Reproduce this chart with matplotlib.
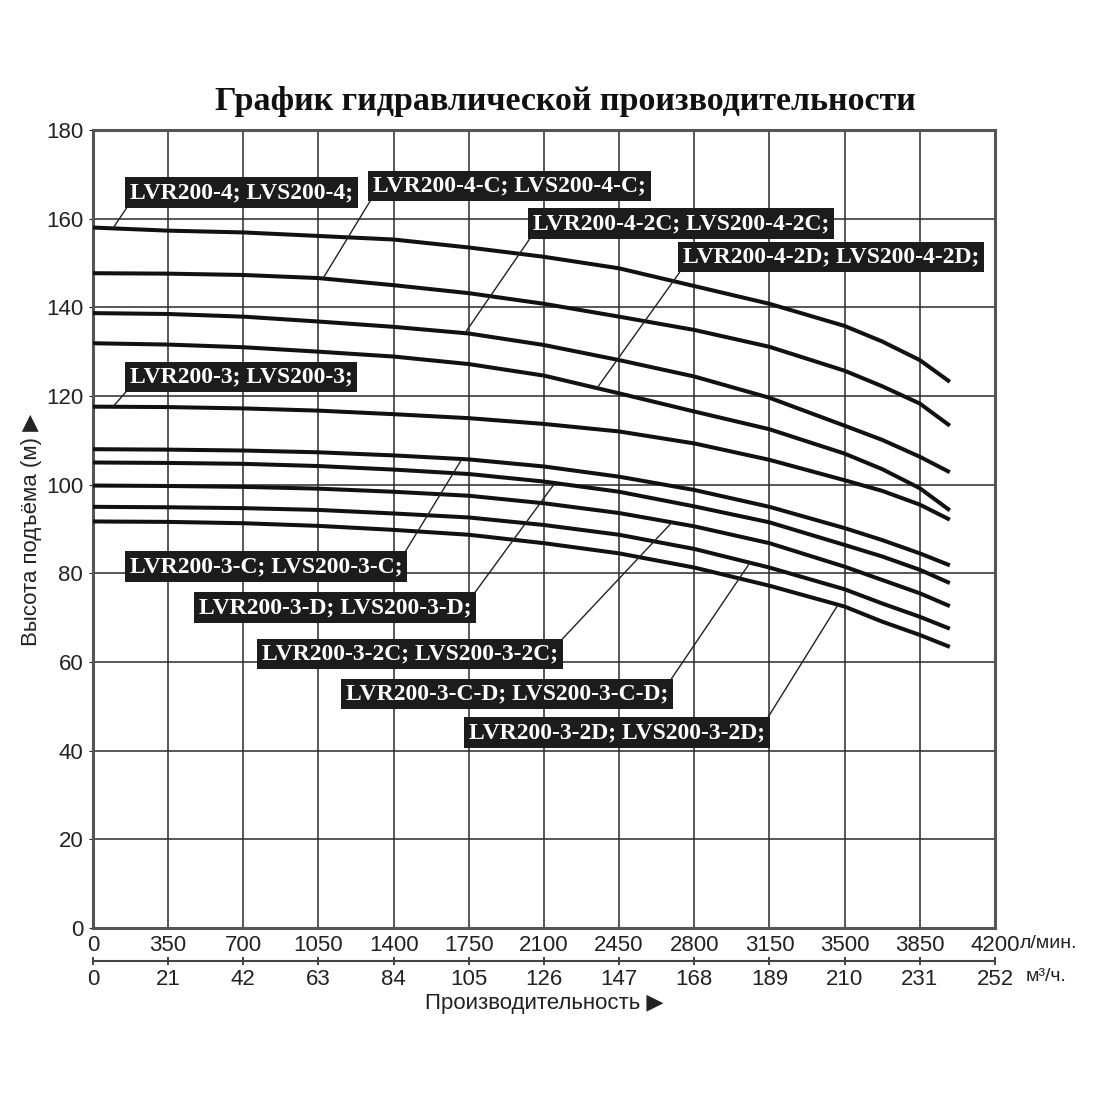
import numpy as np
import matplotlib.pyplot as plt

# flow rate, l/min (read at the grid lines, one extra point near the end, end of curve)
flow = [0, 350, 700, 1050, 1400, 1750, 2100, 2450, 2800, 3150, 3500, 3675, 3850, 3990]

# head, m
head_4 = [158.0, 157.3, 156.9, 156.1, 155.3, 153.5, 151.4, 148.8, 144.8, 140.8, 135.8, 132.3, 128.1, 123.2]
head_4c = [147.7, 147.6, 147.3, 146.6, 145.0, 143.2, 140.8, 137.9, 134.9, 131.1, 125.7, 122.2, 118.3, 113.3]
head_4_2c = [138.7, 138.5, 137.9, 136.8, 135.6, 134.1, 131.5, 128.1, 124.4, 119.6, 113.3, 110.1, 106.3, 102.8]
head_4_2d = [131.9, 131.6, 131.0, 130.0, 128.9, 127.2, 124.6, 120.6, 116.5, 112.5, 107.0, 103.5, 99.2, 94.2]
head_3 = [117.6, 117.5, 117.2, 116.7, 115.9, 115.0, 113.7, 112.0, 109.3, 105.6, 101.0, 98.6, 95.5, 92.1]
head_3c = [108.0, 107.9, 107.7, 107.3, 106.6, 105.7, 104.1, 101.8, 98.8, 95.0, 90.2, 87.5, 84.5, 81.8]
head_3d = [105.0, 104.9, 104.7, 104.2, 103.4, 102.4, 100.7, 98.4, 95.1, 91.5, 86.4, 83.8, 80.8, 77.8]
head_3_2c = [99.8, 99.7, 99.5, 99.1, 98.4, 97.5, 95.8, 93.6, 90.6, 86.8, 81.5, 78.5, 75.5, 72.6]
head_3_cd = [95.0, 94.9, 94.7, 94.3, 93.5, 92.6, 90.9, 88.7, 85.5, 81.3, 76.4, 73.2, 70.2, 67.5]
head_3_2d = [91.7, 91.6, 91.3, 90.7, 89.8, 88.7, 86.8, 84.5, 81.3, 77.2, 72.5, 69.1, 66.1, 63.4]

curves = [head_4, head_4c, head_4_2c, head_4_2d, head_3,
          head_3c, head_3d, head_3_2c, head_3_cd, head_3_2d]

labels = ["LVR200-4; LVS200-4;", "LVR200-4-C; LVS200-4-C;",
          "LVR200-4-2C; LVS200-4-2C;", "LVR200-4-2D; LVS200-4-2D;",
          "LVR200-3; LVS200-3;", "LVR200-3-C; LVS200-3-C;",
          "LVR200-3-D; LVS200-3-D;", "LVR200-3-2C; LVS200-3-2C;",
          "LVR200-3-C-D; LVS200-3-C-D;", "LVR200-3-2D; LVS200-3-2D;"]
# label left x / centre y, and where the leader touches the curve
label_x = [172, 1304, 2049, 2747, 172, 172, 494, 787, 1178, 1751]
label_y = [165.9, 167.4, 158.9, 151.3, 124.3, 81.5, 72.3, 61.8, 52.8, 44.1]
leader_x = [93, 1071, 1732, 2347, 93, 1718, 2151, 2696, 3059, 3469]

flow_ticks = list(range(0, 4201, 350))
m3h_ticks = list(range(0, 253, 21))

tick_font = ['Liberation Sans', 'DejaVu Sans']

fig = plt.figure(figsize=(11, 11), dpi=100)
ax = fig.add_axes([0.0845, 0.1564, 0.82, 0.7254])

for h in curves:
    ax.plot(flow, h, color='#111111', lw=2.9, solid_capstyle='butt',
            solid_joinstyle='round', zorder=3)

for i, txt in enumerate(labels):
    ty = np.interp(leader_x[i], flow, curves[i])
    rel = (0, 0) if i < 5 else (1, 1)
    ax.annotate(txt, xy=(leader_x[i], ty), xytext=(label_x[i], label_y[i]),
                ha='left', va='center', fontsize=17, fontweight='bold',
                family='Liberation Serif', color='white', zorder=5,
                bbox=dict(boxstyle='square,pad=0.2', fc='#1c1c1c', ec='none'),
                arrowprops=dict(arrowstyle='-', color='#222222', lw=1.0,
                                relpos=rel, shrinkA=0, shrinkB=0))

ax.set_xlim(0, 4200)
ax.set_ylim(0, 180)
ax.set_xticks(flow_ticks)
ax.set_yticks(range(0, 181, 20))
ax.grid(True, color='#2a2a2a', lw=1.1, zorder=1)
ax.set_axisbelow(True)
for s in ax.spines.values():
    s.set_color('#555555')
    s.set_linewidth(2.2)
ax.tick_params(axis='x', length=0, pad=5, labelsize=16, colors='#222222')
ax.tick_params(axis='y', length=3, pad=4, labelsize=16, colors='#222222')
for lab in ax.get_xticklabels() + ax.get_yticklabels():
    lab.set_family(tick_font)

sec = ax.secondary_xaxis(-0.0414, functions=(lambda v: v * 0.06, lambda v: v / 0.06))
sec.set_xticks(m3h_ticks)
sec.spines['bottom'].set_color('#444444')
sec.spines['bottom'].set_linewidth(1.5)
sec.tick_params(axis='x', direction='inout', length=6, width=1.2, pad=3,
                labelsize=16, colors='#222222')
for lab in sec.get_xticklabels():
    lab.set_family(tick_font)

fig.text(0.927, 0.1427, "л/мин.", ha='left', va='center', fontsize=14,
         family=tick_font, color='#222222')
fig.text(0.932, 0.112, "м³/ч.", ha='left', va='center', fontsize=14,
         family=tick_font, color='#222222')
fig.text(0.495, 0.088, "Производительность ▶", ha='center', va='center',
         fontsize=16, family=tick_font, color='#222222')
fig.text(0.029, 0.518, "Высота подъёма (м) ▶", rotation=90, ha='center',
         va='center', fontsize=16, family=tick_font, color='#222222')

fig.text(0.514, 0.908, "График гидравлической производительности", ha='center',
         va='center', fontsize=24.5, fontweight='bold', family='Liberation Serif',
         color='#111111')

fig.savefig('out.png', dpi=100, facecolor='white')
